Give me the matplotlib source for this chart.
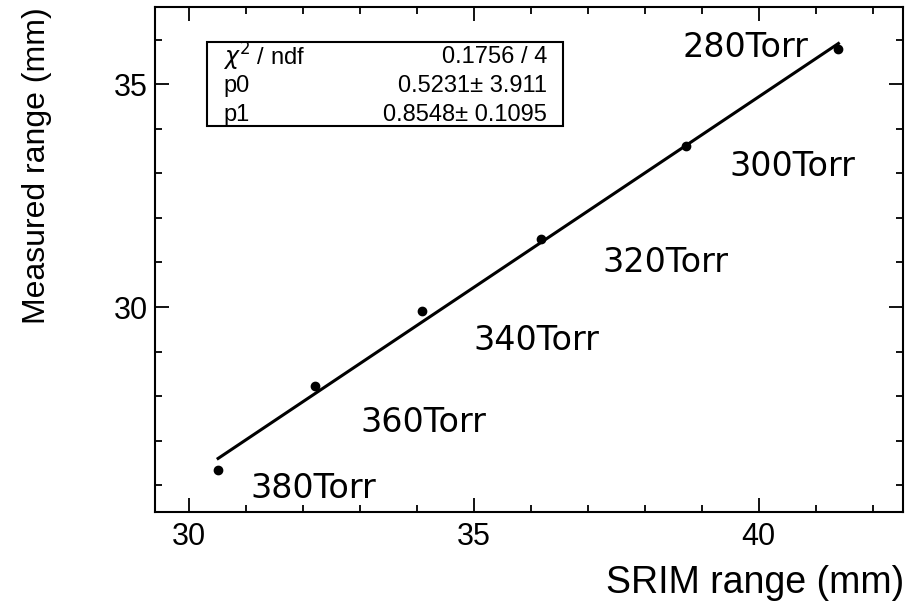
import numpy as np
import matplotlib
matplotlib.use("Agg")
from matplotlib import pyplot as plt
from matplotlib.patches import Rectangle
from matplotlib.ticker import MultipleLocator

# SRIM range vs measured range for each gas pressure
srim = [30.51, 32.21, 34.09, 36.18, 38.72, 41.40]
measured = [26.35, 28.23, 29.91, 31.52, 33.61, 35.78]
pressure = ["380Torr", "360Torr", "340Torr", "320Torr", "300Torr", "280Torr"]
label_x = [31.07, 33.0, 35.0, 37.26, 39.49, 38.67]
label_y = [25.94, 27.42, 29.24, 30.99, 33.16, 35.83]

# linear fit result
chi2, ndf = 0.1756, 4
p0, p0_err = 0.5231, 3.911
p1, p1_err = 0.8548, 0.1095

plt.rcParams['font.family'] = ['Liberation Sans', 'DejaVu Sans']

fig = plt.figure(figsize=(9.11, 6.14), dpi=100)
ax = fig.add_axes([0.170, 0.166, 0.821, 0.8226])

ax.plot(srim, measured, 'o', color='black', markersize=6)
xf = np.array([srim[0], srim[-1]])
ax.plot(xf, p0 + p1 * xf, '-', color='black', lw=2.2)

for t, x, y in zip(pressure, label_x, label_y):
    ax.text(x, y, t, fontsize=24, family='DejaVu Sans', va='center', ha='left')

ax.set_xlim(29.4, 42.53)
ax.set_ylim(25.40, 36.73)
ax.xaxis.set_major_locator(MultipleLocator(5))
ax.xaxis.set_minor_locator(MultipleLocator(1))
ax.yaxis.set_major_locator(MultipleLocator(5))
ax.yaxis.set_minor_locator(MultipleLocator(1))
ax.tick_params(which='both', direction='in', top=True, right=True, width=1.3)
ax.tick_params(which='major', length=10, labelsize=22)
ax.tick_params(which='minor', length=5)
ax.tick_params(axis='x', pad=7)
ax.tick_params(axis='y', pad=5)
for s in ax.spines.values():
    s.set_linewidth(1.5)

fig.text(0.993, 0.05, "SRIM range (mm)", fontsize=27, ha='right', va='center')
fig.text(0.041, 0.731, "Measured range (mm)", fontsize=23, rotation=90,
         ha='center', va='center')

# fit statistics box
W, H = 911, 614
fig.patches.append(Rectangle((207 / W, 1 - 126 / H), 356 / W, 84 / H,
                             transform=fig.transFigure, fill=True,
                             facecolor='white', edgecolor='black', lw=1.5,
                             zorder=5))
rows = [(r"$\chi^2$ / ndf", f"{chi2} / {ndf}"),
        ("p0", f"{p0}\u00b1 {p0_err}"),
        ("p1", f"{p1}\u00b1 {p1_err}")]
for i, (name, val) in enumerate(rows):
    y = 1 - (57 + 29 * i) / H
    fig.text(223 / W, y, name, fontsize=17, ha='left', va='center', zorder=6)
    fig.text(547 / W, y, val, fontsize=17, ha='right', va='center', zorder=6)

fig.savefig("out.png", dpi=100)
